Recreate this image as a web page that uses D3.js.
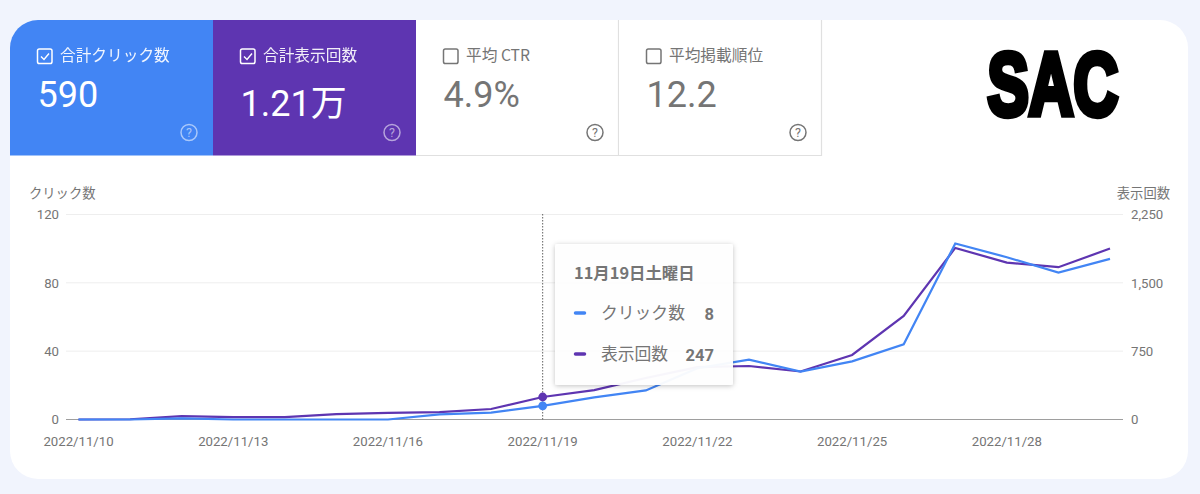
<!DOCTYPE html>
<html>
<head>
<meta charset="utf-8">
<script src="https://cdn.jsdelivr.net/npm/d3@7"></script>
<style>
  html, body { margin: 0; padding: 0; background: #f1f4fd; }
  svg { display: block; }
  text { font-family: Roboto, "Noto Sans CJK JP", sans-serif; }
  .jp { font-family: "Noto Sans CJK JP", sans-serif; }
  .axis path { display: none; }
  .axis text { font-family: Roboto, sans-serif; font-size: 13.2px; fill: #757575; }
</style>
</head>
<body>
<div id="chart"></div>
<script>
// daily dates, 2022/11/10 - 2022/11/30
const dates = ["11/10", "11/11", "11/12", "11/13", "11/14", "11/15", "11/16", "11/17", "11/18", "11/19", "11/20",
    "11/21", "11/22", "11/23", "11/24", "11/25", "11/26", "11/27", "11/28", "11/29", "11/30"];
const clicks = [0, 0, 0.6, 0, 0, 0, 0, 3, 4, 8, 13, 17, 30, 35, 28, 34, 44, 103, 95, 86, 94];
const impressions = [0, 3, 36, 26, 26, 58, 72, 82, 115, 247, 323, 455, 575, 587, 527, 708, 1136, 1883, 1722, 1672, 1876];

const xTicks = ["11/10", "11/13", "11/16", "11/19", "11/22", "11/25", "11/28"];
const clickTicks = [0, 40, 80, 120];
const impressionTicks = [0, 750, 1500, 2250];

const tileLabels = ["合計クリック数", "合計表示回数", "平均 CTR", "平均掲載順位"];
const tileValues = ["590", "1.21万", "4.9%", "12.2"];
const tileChecked = [true, true, false, false];
const tileFills = ["#4285f4", "#5e35b1", "#ffffff", "#ffffff"];
const tileValueY = [107, 116, 107, 107];

const hoverDate = "11/19";
const tooltipTitle = "11月19日土曜日";
const seriesNames = ["クリック数", "表示回数"];

const blue = "#4285f4";
const purple = "#5e35b1";
const width = 1200;
const height = 494;

const svg = d3.select("#chart").append("svg")
    .attr("width", width)
    .attr("height", height)
    .attr("viewBox", [0, 0, width, height]);

const defs = svg.append("defs");
defs.append("clipPath").attr("id", "cardClip")
    .append("rect")
    .attr("x", 10).attr("y", 20)
    .attr("width", 1178).attr("height", 459)
    .attr("rx", 28);
const shadow = defs.append("filter").attr("id", "tipShadow")
    .attr("x", "-10%").attr("y", "-10%").attr("width", "120%").attr("height", "120%");
shadow.append("feDropShadow")
    .attr("dx", 0).attr("dy", 1)
    .attr("stdDeviation", 2.5)
    .attr("flood-color", "#000")
    .attr("flood-opacity", 0.25);

// white card
const card = svg.append("g").attr("clip-path", "url(#cardClip)");
card.append("rect")
    .attr("x", 10).attr("y", 20)
    .attr("width", 1178).attr("height", 459)
    .attr("fill", "#fff");

// the four metric tiles
const tileX = d3.scaleLinear().domain([0, 4]).range([10, 822]);
const tiles = card.selectAll("g.tile")
    .data(tileLabels)
    .join("g")
    .attr("class", "tile")
    .attr("transform", (d, i) => `translate(${tileX(i)},20)`);

tiles.append("rect")
    .attr("width", 203)
    .attr("height", 135.5)
    .attr("fill", (d, i) => tileFills[i]);

// thin borders of the unselected tiles
tiles.filter((d, i) => !tileChecked[i]).append("path")
    .attr("d", "M202.5,0V135.5H0")
    .attr("fill", "none")
    .attr("stroke", "#e0e0e0")
    .attr("stroke-width", 1.2);

tiles.append("rect")
    .attr("x", 27.5).attr("y", 29)
    .attr("width", 14.5).attr("height", 14.5)
    .attr("rx", 1.8)
    .attr("fill", "none")
    .attr("stroke", (d, i) => tileChecked[i] ? "#fff" : "#757575")
    .attr("stroke-width", 1.5);

tiles.filter((d, i) => tileChecked[i]).append("path")
    .attr("d", "M31,36.5l3,3l5,-6")
    .attr("fill", "none")
    .attr("stroke", "#fff")
    .attr("stroke-width", 1.4);

tiles.append("text")
    .attr("class", "jp")
    .attr("x", 50).attr("y", 41)
    .attr("font-size", 15.7)
    .attr("fill", (d, i) => tileChecked[i] ? "#fff" : "#757575")
    .attr("opacity", (d, i) => tileChecked[i] ? 0.92 : 1)
    .text(d => d);

tiles.append("text")
    .attr("x", 27.5)
    .attr("y", (d, i) => tileValueY[i] - 20)
    .attr("font-size", 36)
    .attr("fill", (d, i) => tileChecked[i] ? "#fff" : "#757575")
    .text((d, i) => tileValues[i]);

// help icons
tiles.append("circle")
    .attr("cx", 179).attr("cy", 112.5).attr("r", 8)
    .attr("fill", "none")
    .attr("stroke", (d, i) => tileChecked[i] ? "#fff" : "#757575")
    .attr("stroke-opacity", (d, i) => tileChecked[i] ? 0.55 : 1)
    .attr("stroke-width", 1.5);
tiles.append("text")
    .attr("x", 179).attr("y", 117)
    .attr("text-anchor", "middle")
    .attr("font-size", 12.5)
    .attr("fill", (d, i) => tileChecked[i] ? "#fff" : "#757575")
    .attr("fill-opacity", (d, i) => tileChecked[i] ? 0.55 : 1)
    .text("?");

// logo
svg.append("text")
    .attr("transform", "translate(987.5,115) scale(0.91,1.3)")
    .attr("font-weight", 700)
    .attr("font-size", 68)
    .attr("fill", "#000")
    .attr("stroke", "#000")
    .attr("stroke-width", 5)
    .attr("stroke-linejoin", "miter")
    .style("font-family", "'Liberation Sans Narrow', 'Liberation Sans', sans-serif")
    .text("SAC");

// scales
const x = d3.scalePoint().domain(dates).range([78.5, 1110]);
const yClicks = d3.scaleLinear().domain([0, 120]).range([419.5, 214.5]);
const yImpressions = d3.scaleLinear().domain([0, 2250]).range([419.5, 214.5]);

// grid
svg.append("g")
    .selectAll("line")
    .data(clickTicks)
    .join("line")
    .attr("x1", 66).attr("x2", 1123)
    .attr("y1", d => yClicks(d)).attr("y2", d => yClicks(d))
    .attr("stroke", d => d === 0 ? "#9e9e9e" : "#eeeeee")
    .attr("stroke-width", 1);

// axes
const axisLeft = svg.append("g")
    .attr("class", "axis")
    .attr("transform", "translate(59,0)")
    .call(d3.axisLeft(yClicks).tickValues(clickTicks).tickSize(0).tickPadding(0));

const axisRight = svg.append("g")
    .attr("class", "axis")
    .attr("transform", "translate(1131,0)")
    .call(d3.axisRight(yImpressions).tickValues(impressionTicks).tickSize(0).tickPadding(0)
        .tickFormat(d3.format(",")));

const axisBottom = svg.append("g")
    .attr("class", "axis")
    .attr("transform", "translate(-0.5,437)")
    .call(d3.axisBottom(x).tickValues(xTicks).tickSize(0).tickPadding(0)
        .tickFormat(d => "2022/" + d));

svg.append("text")
    .attr("class", "jp")
    .attr("x", 29).attr("y", 198)
    .attr("font-size", 13.3)
    .attr("fill", "#757575")
    .text(seriesNames[0]);
svg.append("text")
    .attr("class", "jp")
    .attr("x", 1170).attr("y", 198)
    .attr("text-anchor", "end")
    .attr("font-size", 13.3)
    .attr("fill", "#757575")
    .text(seriesNames[1]);

// hover line
svg.append("line")
    .attr("x1", x(hoverDate)).attr("x2", x(hoverDate))
    .attr("y1", 214).attr("y2", 419.5)
    .attr("stroke", "#616161")
    .attr("stroke-width", 1)
    .attr("stroke-dasharray", "1.5,1.5");

// series
const lineImpressions = d3.line()
    .x((d, i) => x(dates[i]))
    .y(d => yImpressions(d));
const lineClicks = d3.line()
    .x((d, i) => x(dates[i]))
    .y(d => yClicks(d));

svg.append("path")
    .attr("d", lineImpressions(impressions))
    .attr("fill", "none")
    .attr("stroke", purple)
    .attr("stroke-width", 2.2);
svg.append("path")
    .attr("d", lineClicks(clicks))
    .attr("fill", "none")
    .attr("stroke", blue)
    .attr("stroke-width", 2.2);

const hoverIndex = dates.indexOf(hoverDate);
svg.append("circle")
    .attr("cx", x(hoverDate)).attr("cy", yImpressions(impressions[hoverIndex]))
    .attr("r", 4.4).attr("fill", purple);
svg.append("circle")
    .attr("cx", x(hoverDate)).attr("cy", yClicks(clicks[hoverIndex]))
    .attr("r", 4.4).attr("fill", blue);

// tooltip
const tip = svg.append("g").attr("transform", "translate(555,244)");
tip.append("rect")
    .attr("width", 178).attr("height", 141)
    .attr("rx", 2)
    .attr("fill", "#fff")
    .attr("fill-opacity", 0.95)
    .attr("filter", "url(#tipShadow)");
tip.append("text")
    .attr("class", "jp")
    .attr("x", 19).attr("y", 35)
    .attr("font-size", 16.4)
    .attr("font-weight", 700)
    .attr("fill", "#757575")
    .text(tooltipTitle);

const rowColors = [blue, purple];
const rowValues = [clicks[hoverIndex], impressions[hoverIndex]];
const rowY = d3.scalePoint().domain(seriesNames).range([69, 110]);
const rows = tip.selectAll("g.row")
    .data(seriesNames)
    .join("g")
    .attr("class", "row")
    .attr("transform", d => `translate(0,${rowY(d)})`);
rows.append("line")
    .attr("x1", 20.5).attr("x2", 29.5)
    .attr("stroke", (d, i) => rowColors[i])
    .attr("stroke-width", 3.5)
    .attr("stroke-linecap", "round");
rows.append("text")
    .attr("class", "jp")
    .attr("x", 46).attr("y", 6)
    .attr("font-size", 16.8)
    .attr("fill", "#757575")
    .text(d => d);
rows.append("text")
    .attr("x", 159).attr("y", 6.5)
    .attr("text-anchor", "end")
    .attr("font-size", 16.5)
    .attr("font-weight", 700)
    .attr("fill", "#757575")
    .text((d, i) => rowValues[i]);
</script>
</body>
</html>
